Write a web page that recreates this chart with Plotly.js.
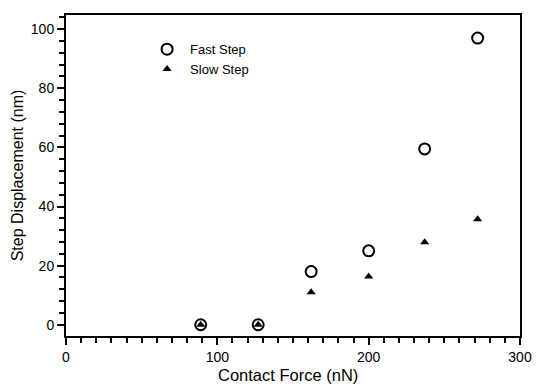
<!DOCTYPE html>
<html>
<head>
<meta charset="utf-8">
<script src="https://cdn.plot.ly/plotly-3.0.1.min.js"></script>
<style>html,body{margin:0;padding:0;background:#fff}#chart{width:536px;height:387px}</style>
</head>
<body>
<div id="chart"></div>
<script>
var force = [89, 127, 162, 200, 237, 272];
var fastStep = [0, 0, 18, 25, 59.5, 97];
var slowStep = [0, 0, 11, 16.3, 27.9, 35.7];
var xTitle = 'Contact Force (nN)';
var yTitle = 'Step Displacement (nm)';

var traces = [
  {x: force, y: fastStep, name: 'Fast Step', type: 'scatter', mode: 'markers',
   marker: {symbol: 'circle-open', size: 11, color: '#000', line: {width: 2, color: '#000'}}},
  {x: force, y: slowStep, name: 'Slow Step', type: 'scatter', mode: 'markers',
   marker: {symbol: 'triangle-up', size: 8, color: '#000'}}
];

var FONT = 'Liberation Sans, Arial, sans-serif';

var axisCommon = {
  showline: true, linecolor: '#000', linewidth: 2, mirror: true,
  showgrid: false, zeroline: false,
  ticks: 'outside', ticklen: 7, tickwidth: 2, tickcolor: '#000',
  tickfont: {family: FONT, size: 14, color: '#000'}
};

var layout = {
  width: 536, height: 387,
  margin: {l: 66, r: 16, t: 15, b: 51},
  paper_bgcolor: '#fff', plot_bgcolor: '#fff',
  showlegend: true,
  legend: {x: 0.172, y: 0.94, xanchor: 'left', yanchor: 'top', bgcolor: 'rgba(0,0,0,0)',
           font: {family: FONT, size: 13, color: '#000'},
           tracegroupgap: 0, itemwidth: 36},
  xaxis: Object.assign({}, axisCommon, {
    range: [0, 300], tick0: 0, dtick: 100,
    minor: {dtick: 10, ticks: 'outside', ticklen: 5, tickwidth: 2, tickcolor: '#000', showgrid: false}
  }),
  yaxis: Object.assign({}, axisCommon, {
    range: [-3.8, 104.8], tick0: 0, dtick: 20,
    minor: {dtick: 4, tick0: 0, ticks: 'outside', ticklen: 5, tickwidth: 2, tickcolor: '#000', showgrid: false},
    title: {text: yTitle, standoff: 3,
            font: {family: FONT, size: 16, color: '#000'}}
  }),
  annotations: [
    {text: xTitle, xref: 'paper', yref: 'paper', x: 0.49, y: -0.123,
     xanchor: 'center', yanchor: 'middle', showarrow: false,
     font: {family: FONT, size: 16.5, color: '#000'}}
  ]
};

Plotly.newPlot('chart', traces, layout, {displayModeBar: false, staticPlot: true});
</script>
</body>
</html>
